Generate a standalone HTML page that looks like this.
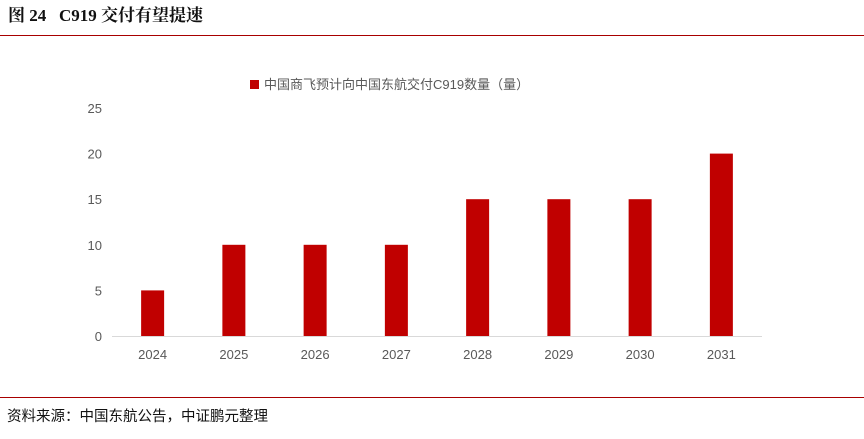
<!DOCTYPE html>
<html><head><meta charset="utf-8"><style>
body{margin:0;width:864px;height:434px;background:#fff;overflow:hidden;font-family:"Liberation Sans","Noto Sans CJK SC",sans-serif}
</style></head><body>
<svg width="864" height="434" xmlns="http://www.w3.org/2000/svg">
<text x="8" y="21" font-family="'Liberation Serif','Noto Serif CJK SC',serif" font-weight="bold" font-size="17" fill="#111">图 24 &#160;&#160;C919 交付有望提速</text>
<line x1="0" y1="35.5" x2="864" y2="35.5" stroke="#a80000" stroke-width="1" shape-rendering="crispEdges"/>
<rect x="250" y="80" width="9" height="9" fill="#c00000"/>
<text x="264" y="89" font-size="13" fill="#595959">中国商飞预计向中国东航交付C919数量（量）</text>
<g id="plot"></g>
<line x1="0" y1="397.5" x2="864" y2="397.5" stroke="#a80000" stroke-width="1" shape-rendering="crispEdges"/>
<text x="7" y="421" font-size="14.5" fill="#111">资料来源：中国东航公告，中证鹏元整理</text>
</svg>
<script>
const categories=["2024","2025","2026","2027","2028","2029","2030","2031"];
const values=[5,10,10,10,15,15,15,20];
const yTicks=[0,5,10,15,20,25];
const NS="http://www.w3.org/2000/svg";
const g=document.getElementById("plot");
const x0=112,x1=762,yBase=336,yTop=108,yMax=25;
const y=v=>yBase-(yBase-yTop)*v/yMax;
const step=(x1-x0)/categories.length;
const xc=i=>x0+step*(i+0.5);
function mk(t,a){const e=document.createElementNS(NS,t);for(const k in a)e.setAttribute(k,a[k]);g.appendChild(e);return e;}
yTicks.forEach(t=>{
  const e=mk("text",{x:102,y:y(t)+5,"text-anchor":"end","font-size":"13",fill:"#595959"});
  e.textContent=t;
  
  
});
const ax=mk("line",{x1:x0,y1:yBase+0.5,x2:x1,y2:yBase+0.5,stroke:"#d9d9d9","stroke-width":1});


categories.forEach((c,i)=>{
  const b=mk("rect",{x:xc(i)-11.5,y:y(values[i]),width:23,height:yBase-y(values[i]),fill:"#c00000"});
  
  
  const t=mk("text",{x:xc(i),y:359,"text-anchor":"middle","font-size":"13",fill:"#595959"});
  t.textContent=c;
  
  
});
</script>
</body></html>
